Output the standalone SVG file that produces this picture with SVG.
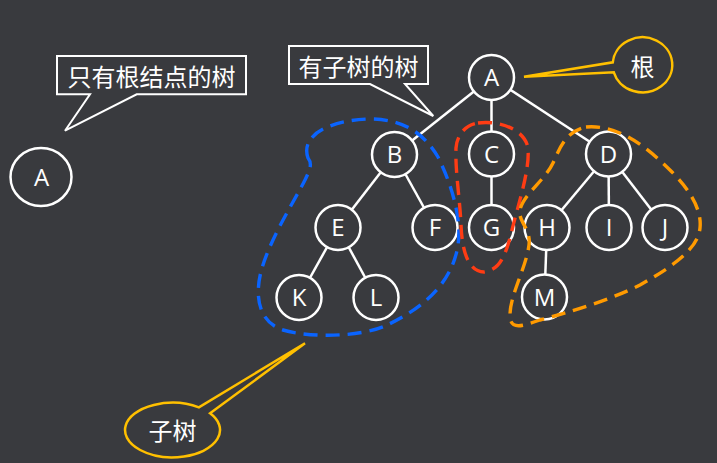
<svg xmlns="http://www.w3.org/2000/svg" width="717" height="463" viewBox="0 0 717 463">
<style>
.bg{fill:#393a3e}
.node circle{fill:#393a3e;stroke:#ffffff;stroke-width:2.5}
.node text{fill:#ffffff;font-family:"Open Sans","Noto Sans CJK SC",sans-serif;font-size:24px;text-anchor:middle}
.edge{stroke:#ffffff;stroke-width:2.5;fill:none}
.callout{fill:#393a3e;stroke:#ffffff;stroke-width:2}
.ycallout{fill:#393a3e;stroke:#ffc000;stroke-width:2.5}
.cjk{fill:#ffffff;font-family:"Noto Sans CJK SC","Microsoft YaHei",sans-serif;font-size:24px;text-anchor:middle;dominant-baseline:central}
.blob{fill:none;stroke-width:3.4;stroke-dasharray:14 8}
</style>
<rect class="bg" x="0" y="0" width="717" height="463"/>

<g id="connectors">
  <line class="edge" x1="491.5" y1="77.5" x2="394.5" y2="154.5"/>
  <line class="edge" x1="491.5" y1="77.5" x2="491.5" y2="154"/>
  <line class="edge" x1="491.5" y1="77.5" x2="608.5" y2="154"/>
  <line class="edge" x1="394.5" y1="154.5" x2="338" y2="227.5"/>
  <line class="edge" x1="394.5" y1="154.5" x2="435" y2="227.5"/>
  <line class="edge" x1="338" y1="227.5" x2="299" y2="297.5"/>
  <line class="edge" x1="338" y1="227.5" x2="376" y2="297.5"/>
  <line class="edge" x1="491.5" y1="154" x2="491.5" y2="227.5"/>
  <line class="edge" x1="608.5" y1="154" x2="547" y2="227.5"/>
  <line class="edge" x1="608.5" y1="154" x2="609" y2="227.5"/>
  <line class="edge" x1="608.5" y1="154" x2="665" y2="227.5"/>
  <line class="edge" x1="547" y1="227.5" x2="544.5" y2="297"/>
</g>

<g id="callout-root-only">
  <path class="callout" d="M57,56 H246 V94.3 H136.7 L65,130.7 L90,94.3 H57 Z"/>
  <text class="cjk" x="151.5" y="75">只有根结点的树</text>
</g>
<g id="callout-subtree-tree">
  <path class="callout" d="M289,46 H428 V84 H405 L433.3,116 L370,84 H289 Z"/>
  <text class="cjk" x="358.5" y="65">有子树的树</text>
</g>

<g id="node-A0" class="node">
  <ellipse cx="41" cy="177" rx="30.5" ry="29" fill="#393a3e" stroke="#ffffff" stroke-width="2.5"/>
  <text x="41.5" y="186">A</text>
</g>
<g id="node-A" class="node"><circle cx="491.5" cy="77.5" r="22.5"/><text x="491.5" y="86">A</text></g>
<g id="node-B" class="node"><circle cx="394.5" cy="154.5" r="22.5"/><text x="394.5" y="163">B</text></g>
<g id="node-C" class="node"><circle cx="491.5" cy="154" r="22.5"/><text x="491.5" y="162.5">C</text></g>
<g id="node-D" class="node"><circle cx="608.5" cy="154" r="22.5"/><text x="608.5" y="162.5">D</text></g>
<g id="node-E" class="node"><circle cx="338" cy="227.5" r="22.5"/><text x="338" y="236">E</text></g>
<g id="node-F" class="node"><circle cx="435" cy="227.5" r="22.5"/><text x="435" y="236">F</text></g>
<g id="node-G" class="node"><circle cx="491.5" cy="227.5" r="22.5"/><text x="491.5" y="236">G</text></g>
<g id="node-H" class="node"><circle cx="547" cy="227.5" r="22.5"/><text x="547" y="236">H</text></g>
<g id="node-I" class="node"><circle cx="609" cy="227.5" r="22.5"/><text x="609" y="236">I</text></g>
<g id="node-J" class="node"><circle cx="665" cy="227.5" r="22.5"/><text x="665" y="236">J</text></g>
<g id="node-K" class="node"><circle cx="299" cy="297.5" r="22.5"/><text x="299" y="306">K</text></g>
<g id="node-L" class="node"><circle cx="376" cy="297.5" r="22.5"/><text x="376" y="306">L</text></g>
<g id="node-M" class="node"><circle cx="544.5" cy="297" r="22.5"/><text x="544.5" y="305.5">M</text></g>

<g id="subtree-outlines">
  <path class="blob" stroke="#0a64ff" d="M308,158 C300,135 330,120 370,119 C405,119 425,135 438,157 C452,185 462,220 458,245 C452,285 420,310 385,326 C360,337 310,338 283,330 C258,322 254,295 262,268 C272,235 295,200 305,180 C311,168 312,163 308,158 Z"/>
  <path class="blob" stroke="#ff3c14" d="M478,123 C500,120 525,130 528,148 C530,170 518,205 512,230 C506,255 500,270 484,272 C468,272 462,250 461,225 C460,200 455,170 456,148 C457,135 465,125 478,123 Z"/>
  <path class="blob" stroke="#ff9a00" d="M586,127 C620,124 650,150 672,172 C690,190 702,210 700,228 C698,250 670,268 640,285 C610,300 570,312 540,320 C520,327 510,330 510,315 C510,295 526,268 529,245 C531,228 518,222 520,210 C523,195 545,180 553,163 C560,148 565,132 586,127 Z"/>
</g>

<g id="callout-root">
  <path class="ycallout" d="M612.8,62.3 A29.8 27.5 0 1 1 613.8,72.3 L524,76.7 Z"/>
  <text class="cjk" x="642.5" y="65">根</text>
</g>
<g id="callout-subtree">
  <path class="ycallout" d="M210.1,413.3 A47.5 27.3 0 1 1 198.9,407.3 L305,343.3 Z"/>
  <text class="cjk" x="172.5" y="429">子树</text>
</g>
</svg>
